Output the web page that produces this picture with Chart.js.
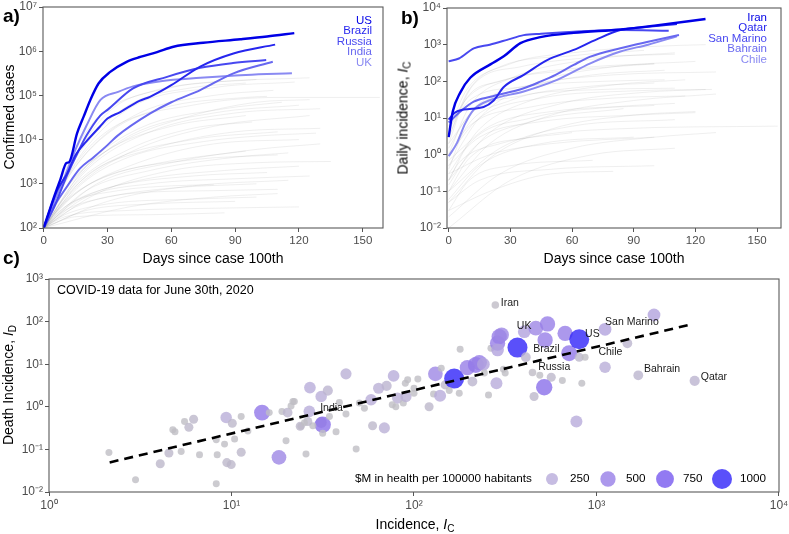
<!DOCTYPE html>
<html>
<head>
<meta charset="utf-8">
<script src="https://cdn.jsdelivr.net/npm/chart.js@4.4.1/dist/chart.umd.min.js"></script>
<style>
  body { margin: 0; background: #fff; width: 789px; height: 534px; position: relative; overflow: hidden;
         font-family: "Liberation Sans", Arial, sans-serif; }
  canvas { position: absolute; left: 0; top: 0; }
  .ttl { position: absolute; font-size: 14px; color: #000; white-space: nowrap; line-height: 1; transform: translate(-50%, -50%); }
  .ttl.rot { transform: translate(-50%, -50%) rotate(-90deg); }
  .ttl sub { font-size: 10px; vertical-align: -3px; }
  .pl { position: absolute; font-size: 19px; font-weight: bold; line-height: 1; }
</style>
</head>
<body>
<canvas id="chartA" width="789" height="534"></canvas>
<canvas id="chartB" width="789" height="534"></canvas>
<canvas id="chartC" width="789" height="534"></canvas>

<div class="pl" style="left:3px;top:6px">a)</div>
<div class="pl" style="left:401px;top:8px">b)</div>
<div class="pl" style="left:3px;top:248px">c)</div>
<div class="ttl rot" style="left:9px;top:117px">Confirmed cases</div>
<div class="ttl" style="left:213px;top:258px">Days since case 100th</div>
<div class="ttl rot" style="left:404px;top:118px">Daily incidence, <i>I</i><sub>C</sub></div>
<div class="ttl" style="left:614px;top:258px">Days since case 100th</div>
<div class="ttl rot" style="left:9px;top:385px">Death Incidence, <i>I</i><sub>D</sub></div>
<div class="ttl" style="left:415px;top:525px">Incidence, <i>I</i><sub>C</sub></div>

<script>
/* ---------- DATA: panel a (confirmed cases) ---------- */
const daysTicks = [0, 30, 60, 90, 120, 150];
const casesTicks = [1e2, 1e3, 1e4, 1e5, 1e6, 1e7];

const namesA = ["US", "Brazil", "Russia", "India", "UK"];
const usDays = [0, 4.7, 7.8, 10.7, 12, 15.7, 18.8, 21.9, 25.8, 31.3, 39, 45.4, 53.3, 61, 75, 92.4, 105, 117.8];
const usCases = [100, 475, 1230, 2950, 3100, 13800, 33000, 78000, 186000, 340000, 575000, 740000, 950000, 1260000, 1550000, 1860000, 2150000, 2570000];
const brazilDays = [0, 6.3, 11, 15, 20, 26.6, 30, 36, 45, 50, 60, 73.6, 89.2, 108.8];
const brazilCases = [100, 700, 1700, 4500, 9000, 20000, 30000, 42000, 75000, 93000, 170000, 450000, 890000, 1410000];
const russiaDays = [0, 5, 10, 15, 20, 26.6, 30, 42, 58, 73.6, 89, 104.6];
const russiaCases = [100, 300, 1200, 4000, 12000, 35000, 47000, 144000, 263000, 420000, 540000, 630000];
const indiaDays = [0, 3.1, 11, 17, 23.5, 30, 34.5, 50.1, 60, 73.6, 89.2, 107.7];
const indiaCases = [100, 220, 870, 2200, 4000, 7500, 12000, 39000, 70000, 132000, 316000, 575000];
const ukDays = [0, 5, 10, 15, 20, 26.6, 35, 42, 55, 73.6, 95, 116.7];
const ukCases = [100, 400, 1500, 6000, 20000, 78000, 120000, 160000, 210000, 250000, 290000, 316000];

// other countries, [day, cases]
const grayA = [
  [[0,100],[10,2000],[25,30000],[50,120000],[80,200000],[125,250000]],
  [[0,100],[10,1500],[30,40000],[60,150000],[100,230000]],
  [[0,100],[15,3000],[40,50000],[80,150000],[118,200000]],
  [[0,100],[12,1500],[35,20000],[70,60000],[110,90000],[158,90000]],
  [[0,100],[15,1200],[40,12000],[80,40000],[120,60000]],
  [[0,100],[20,2000],[50,15000],[90,40000],[130,50000]],
  [[0,100],[15,800],[40,5000],[80,20000],[125,35000]],
  [[0,100],[20,1500],[50,6000],[90,15000],[130,18000]],
  [[0,100],[10,500],[30,3000],[70,10000],[110,15000]],
  [[0,100],[15,600],[40,2500],[80,8000],[120,10000]],
  [[0,100],[20,700],[50,2000],[90,4000],[115,5000]],
  [[0,100],[10,400],[30,1500],[70,3500],[110,4500]],
  [[0,100],[15,400],[45,1200],[85,2000],[120,2500]],
  [[0,100],[10,300],[30,800],[70,1500],[105,1800]],
  [[0,100],[20,500],[50,1000],[90,1300],[125,1500]],
  [[0,100],[10,250],[30,500],[60,800],[100,1000]],
  [[0,100],[15,300],[40,600],[80,700],[110,750]],
  [[0,100],[10,200],[30,350],[70,450],[100,500]],
  [[0,100],[20,250],[50,350],[90,400]],
  [[0,100],[10,180],[40,250],[80,280],[120,300]],
  [[0,100],[15,180],[50,200],[85,220]],
  [[0,100],[5,400],[20,5000],[45,40000],[80,100000],[108,130000]],
  [[0,100],[8,800],[25,10000],[55,50000],[95,90000],[105,95000]],
  [[0,100],[12,1000],[35,8000],[65,30000],[100,70000],[125,80000]],
  [[0,100],[10,700],[28,5000],[60,20000],[95,35000]],
  [[0,100],[18,1000],[40,4000],[75,9000],[100,12000],[128,14000]],
  [[0,100],[25,1000],[60,3000],[100,6000],[130,8000]],
  [[0,100],[8,300],[25,1200],[55,3000],[95,5500]],
  [[0,100],[30,400],[70,900],[115,1200]],
  [[0,100],[12,350],[35,700],[60,900],[80,950]],
  [[0,100],[20,2500],[45,18000],[85,50000],[112,70000]],
  [[0,100],[25,600],[60,2000],[100,3000],[135,3200]],
  [[0,100],[40,300],[80,500],[110,600]],
  [[0,100],[6,600],[18,6000],[40,60000],[70,150000],[95,190000]],
  [[0,100],[14,900],[40,6000],[70,18000],[98,25000]]
];

/* ---------- DATA: panel b (daily incidence) ---------- */
const incTicksB = [1e-2, 1e-1, 1e0, 1e1, 1e2, 1e3, 1e4];
const namesB = ["Iran", "Qatar", "San Marino", "Bahrain", "Chile"];
const iranDays = [0, 2, 5.7, 10.5, 20.3, 26.8, 34.9, 44.6, 60.8, 83.5, 100, 124.9];
const iranInc = [3, 15, 50, 125, 290, 480, 1100, 1600, 2100, 2600, 3300, 5000];
const qatarDays = [0, 3, 7.3, 17, 21.9, 26.8, 36.5, 47.9, 60.8, 72, 83.5, 95, 111];
const qatarInc = [9, 14, 17, 20, 30, 70, 150, 380, 720, 1400, 2500, 3000, 3650];
const smDays = [0, 5, 12.2, 20, 28.4, 36.5, 45, 60.8, 83.5, 107];
const smInc = [350, 420, 790, 1000, 1350, 1820, 2000, 2250, 2500, 2400];
const bahrainDays = [0, 5.7, 12.2, 20.3, 36.5, 44.6, 52, 60.8, 68.9, 83.5, 97, 112];
const bahrainInc = [7.5, 15, 28, 38, 65, 98, 150, 280, 470, 800, 1200, 1830];
const chileDays = [0, 4.1, 8, 12.2, 20.3, 36.5, 52.7, 68.9, 83.5, 97, 111];
const chileInc = [0.9, 2.1, 7, 17, 31, 53, 110, 310, 650, 1000, 1700];

const grayB = [
  [[0,3],[10,60],[30,300],[60,600],[100,900],[125,1000]],
  [[0,1],[10,20],[30,120],[70,400],[110,600]],
  [[0,0.5],[15,10],[40,80],[80,250],[120,350]],
  [[0,2],[8,30],[25,100],[60,200],[100,300]],
  [[0,0.3],[15,5],[40,30],[80,80],[115,110]],
  [[0,0.1],[20,2],[50,12],[90,30],[130,45]],
  [[0,0.05],[20,0.8],[50,5],[90,12],[120,15]],
  [[0,0.02],[25,0.3],[60,1.5],[100,3],[130,4]],
  [[0,0.2],[10,2],[40,10],[80,20],[110,25]],
  [[0,1],[10,6],[40,20],[80,35],[115,40]],
  [[0,0.5],[15,3],[45,8],[90,12],[120,14]],
  [[0,0.1],[10,0.8],[40,3],[80,5],[160,6]],
  [[0,0.3],[20,1],[50,2],[100,3]],
  [[0,0.05],[15,0.2],[50,0.4],[100,0.5]],
  [[0,4],[8,50],[25,250],[60,500],[95,700]],
  [[0,0.8],[12,15],[35,60],[70,150],[105,200]],
  [[0,6],[10,40],[30,120],[70,250],[100,300]],
  [[0,0.2],[20,4],[55,25],[95,50],[125,60]],
  [[0,0.01],[30,0.2],[70,1],[110,1.5]],
  [[0,0.03],[20,0.1],[50,0.3],[80,0.35]],
  [[0,2],[15,25],[40,80],[80,150],[130,180]],
  [[0,0.4],[8,5],[30,30],[65,70],[100,90]],
  [[0,0.15],[12,1.5],[40,8],[85,18]],
  [[0,1.5],[10,12],[35,40],[75,60],[110,65]],
  [[0,0.7],[20,6],[50,15],[100,22]],
  [[0,0.1],[25,1.5],[60,6],[110,9]],
  [[0,3],[12,80],[35,250],[70,450],[110,550]],
  [[0,0.03],[10,0.2],[30,0.5],[70,0.7]],
  [[0,5],[10,30],[35,70],[75,100],[105,110]],
  [[0,0.2],[5,0.6],[25,2],[60,4]],
  [[0,1],[15,10],[45,35],[90,55],[128,60]],
  [[0,0.06],[15,0.5],[45,2],[90,3]]
];

/* ---------- DATA: panel c (June 30th snapshot) ---------- */
const incTicksC = [1e0, 1e1, 1e2, 1e3, 1e4];
const deathTicks = [1e-2, 1e-1, 1e0, 1e1, 1e2, 1e3];
const incX = [2.13,2.98,4.07,4.54,4.77,4.9,5.3,5.53,5.84,6.2,
  6.68,8.25,8.35,8.25,9.16,9.35,9.43,9.96,10.1,10.4,
  11.3,11.3,12.3,14.7,18.2,16.1,18.9,19.9,20.3,21.7,
  25.6,26.9,26.7,31,33.7,31,31.6,27.9,24,26.2,
  31.6,37.4,42.4,42.4,39,48.2,50.2,53.5,58.2,59.3,
  64,68.8,70.8,77.3,79.5,81.3,87.4,90.4,92.3,100,
  100,105,121,128,131,139,141,148,166,156,
  177,179,196,209,218,228,240,243,256,264,
  283,287,293,302,279,309,316,369,410,402,
  465,539,523,446,489,565,517,455,650,673,
  708,804,804,866,831,776,1114,1114,1476,2066,
  1694,3451,89.6,287,21.2,23.8,25.1,34.4,22.1,76];
const deathY = [0.085,0.0195,0.046,0.082,0.29,0.26,0.089,0.45,0.33,0.51,
  0.075,0.168,0.075,0.0157,0.133,0.56,0.049,0.044,0.41,0.175,
  0.59,0.086,0.27,0.73,0.065,0.73,0.78,0.16,0.73,1.33,
  0.078,2.83,0.78,1.74,2.4,0.43,0.38,0.36,0.35,0.45,
  0.24,0.26,5.93,0.68,1.26,0.102,1.22,0.93,1.46,0.36,
  2.73,0.32,3.1,5.3,1.0,1.6,1.22,1.74,4.29,2.73,
  2.09,4.47,1.0,2.0,5.93,1.81,8.07,3.27,4.6,2.4,
  2.09,22.5,8.3,3.92,9.6,10.9,10,6.2,1.9,23.7,
  3.59,31.1,44.5,49,245,7.6,6.2,24.5,14.6,58,
  70,88,37,6.4,5.5,4.95,2.88,1.74,4.13,53,
  18.1,38.6,14.6,14.6,3.59,0.45,66,8.5,31,143,
  5.5,4.07,3.59,21.7,1.05,0.35,0.42,0.59,1.33,1.11];
// $M in health per 100000 habitants
const health = [35,35,100,100,35,35,35,35,100,100,
  35,35,35,35,35,220,100,100,100,35,
  35,100,35,550,450,35,35,35,130,35,
  35,230,230,220,150,200,600,35,35,100,
  35,35,200,35,35,35,35,35,220,100,
  200,200,150,230,35,200,35,200,35,35,
  35,35,100,35,450,250,35,100,1000,35,
  35,35,500,130,550,500,300,35,35,35,
  250,500,500,450,50,35,35,1000,130,300,
  450,500,500,50,35,100,600,100,35,500,
  550,1000,100,35,35,250,300,220,130,300,
  130,150,35,300,35,100,35,35,35,35];
const trendX = [2.15, 3213];
const trendY = [0.0495, 83.6];
const labelNames = ["Iran", "UK", "US", "San Marino", "Brazil", "Chile", "Russia", "Bahrain", "Qatar", "India"];
const labelX = [299, 366, 866, 1114, 450, 1024, 479, 1820, 3724, 30.6];
const labelY = [269, 79, 51, 96.6, 22.9, 19.1, 8.5, 7.8, 5.1, 0.93];
const legendVals = [250, 500, 750, 1000];

/* ---------- HELPERS ---------- */
const FONT = '"Liberation Sans", Arial, sans-serif';
const W = 789, H = 534;
const hiColors = ["#0000e6", "#2626ee", "#4848f0", "#6868f0", "#8a8af2"];
const GRAY_LINE = "rgba(130,130,130,0.13)";

const SUP = "⁰¹²³⁴⁵⁶⁷⁸⁹";
function sup(n) {
    return String(n).split("").map(c => c === "-" ? "⁻" : SUP[+c]).join("");
}
const powLabel = v => "10" + sup(Math.round(Math.log10(v)));

const pts = (xs, ys) => xs.map((x, i) => ({ x, y: ys[i] }));

function radius(v) { return 2 + 0.253 * Math.sqrt(v); }

// shown colour (over white), then un-blended for alpha
const colStops = [[0, [205, 205, 205]], [250, [198, 188, 226]], [500, [172, 152, 236]], [750, [146, 122, 242]], [1000, [90, 80, 250]]];
const ALPHA = 0.8;
function colour(v) {
    let i = 0;
    while (i < colStops.length - 2 && v > colStops[i + 1][0]) i++;
    const [v0, c0] = colStops[i], [v1, c1] = colStops[i + 1];
    const t = Math.max(0, Math.min(1, (v - v0) / (v1 - v0)));
    const c = c0.map((a, k) => a + (c1[k] - a) * t).map(d => Math.round(255 - (255 - d) / ALPHA));
    return `rgba(${c[0]},${c[1]},${c[2]},${ALPHA})`;
}

function tickGrid() {
    return { display: true, drawOnChartArea: false, drawTicks: true, tickLength: 4, color: "#555", lineWidth: 1 };
}
function tickFont(size) {
    return { font: { family: FONT, size }, color: "#4d4d4d", autoSkip: false, maxRotation: 0 };
}
function linX(min, max, ticks) {
    return {
        type: "linear", min, max,
        grid: tickGrid(), border: { display: false },
        ticks: { ...tickFont(11.5), padding: 2 },
        afterBuildTicks: s => { s.ticks = ticks.map(v => ({ value: v })); },
        afterFit: s => { s.height = 20; s.paddingLeft = 0; s.paddingRight = 0; }
    };
}
function logX(min, max, ticks) {
    const o = linX(min, max, ticks);
    o.type = "logarithmic";
    o.ticks = { ...tickFont(12), padding: 2, callback: powLabel };
    return o;
}
function logY(min, max, ticks) {
    return {
        type: "logarithmic", min, max,
        grid: tickGrid(), border: { display: false },
        ticks: { ...tickFont(12), padding: 2, callback: powLabel },
        afterBuildTicks: s => { s.ticks = ticks.map(v => ({ value: v })); },
        afterFit: s => { s.width = 40; s.paddingTop = 0; s.paddingBottom = 0; }
    };
}
// plot box in page pixels -> layout padding (y axis 40 wide, x axis 20 high)
function pad(l, t, r, b) {
    return { left: l - 40, top: t, right: W - r, bottom: H - b - 20 };
}

const framePlugin = {
    id: "frame",
    afterDatasetsDraw(chart) {
        const a = chart.chartArea, ctx = chart.ctx;
        ctx.save();
        ctx.strokeStyle = "#5a5a5a";
        ctx.lineWidth = 1.1;
        ctx.strokeRect(a.left, a.top, a.right - a.left, a.bottom - a.top);
        ctx.restore();
    }
};

function nameLegend(names, rightX, firstY, step) {
    return {
        id: "names",
        afterDraw(chart) {
            const ctx = chart.ctx;
            ctx.save();
            ctx.font = `11.5px ${FONT}`;
            ctx.textAlign = "right";
            ctx.textBaseline = "middle";
            names.forEach((n, i) => {
                ctx.fillStyle = hiColors[i];
                ctx.fillText(n, rightX, firstY + i * step);
            });
            ctx.restore();
        }
    };
}

function lineSets(series, gray) {
    const hi = series.map((s, i) => ({
        data: pts(s[0], s[1]),
        borderColor: hiColors[i],
        borderWidth: i === 0 ? 2.4 : 2,
        pointRadius: 0,
        cubicInterpolationMode: "monotone"
    }));
    const gr = gray.map(g => ({
        data: g.map(([x, y]) => ({ x, y })),
        borderColor: GRAY_LINE,
        borderWidth: 1,
        pointRadius: 0,
        cubicInterpolationMode: "monotone"
    }));
    return hi.concat(gr);
}

const common = {
    responsive: false,
    animation: false,
    events: [],
    plugins: { legend: { display: false }, tooltip: { enabled: false } }
};

/* ---------- PANEL A ---------- */
new Chart(document.getElementById("chartA"), {
    type: "line",
    data: {
        datasets: lineSets([[usDays, usCases], [brazilDays, brazilCases], [russiaDays, russiaCases],
            [indiaDays, indiaCases], [ukDays, ukCases]], grayA)
    },
    options: {
        ...common,
        layout: { padding: pad(43, 7, 383, 228) },
        scales: { x: linX(-0.3, 159.5, daysTicks), y: logY(1e2, 1e7, casesTicks) }
    },
    plugins: [framePlugin, nameLegend(namesA, 372, 20.5, 10.5)]
});

/* ---------- PANEL B ---------- */
new Chart(document.getElementById("chartB"), {
    type: "line",
    data: {
        datasets: lineSets([[iranDays, iranInc], [qatarDays, qatarInc], [smDays, smInc],
            [bahrainDays, bahrainInc], [chileDays, chileInc]], grayB)
    },
    options: {
        ...common,
        layout: { padding: pad(447, 8, 781, 228) },
        scales: { x: linX(-0.8, 161.6, daysTicks), y: logY(1e-2, 1e4, incTicksB) }
    },
    plugins: [framePlugin, nameLegend(namesB, 767, 17.5, 10.5)]
});

/* ---------- PANEL C ---------- */
const labelPlugin = {
    id: "labels",
    afterDatasetsDraw(chart) {
        const ctx = chart.ctx, sx = chart.scales.x, sy = chart.scales.y;
        ctx.save();
        ctx.font = `10.5px ${FONT}`;
        ctx.fillStyle = "#1a1a1a";
        ctx.textBaseline = "middle";
        ctx.textAlign = "left";
        labelNames.forEach((n, i) => {
            ctx.fillText(n, sx.getPixelForValue(labelX[i]), sy.getPixelForValue(labelY[i]));
        });
        ctx.font = `12.5px ${FONT}`;
        ctx.fillStyle = "#000";
        ctx.fillText("COVID-19 data for June 30th, 2020", chart.chartArea.left + 8, chart.chartArea.top + 12);
        // size legend
        const ly = 479;
        ctx.font = `11.7px ${FONT}`;
        ctx.fillText("$M in health per 100000 habitants", 355, ly);
        const cx = [552, 608, 665, 722];
        legendVals.forEach((v, i) => {
            ctx.beginPath();
            ctx.arc(cx[i], ly, radius(v), 0, Math.PI * 2);
            ctx.fillStyle = colour(v);
            ctx.fill();
            ctx.fillStyle = "#000";
            ctx.fillText(String(v), cx[i] + 18, ly);
        });
        ctx.restore();
    }
};

new Chart(document.getElementById("chartC"), {
    type: "scatter",
    data: {
        datasets: [
            {
                type: "line",
                data: pts(trendX, trendY),
                borderColor: "#000",
                borderWidth: 2.6,
                borderDash: [9, 6],
                pointRadius: 0
            },
            {
                data: pts(incX, deathY),
                pointRadius: health.map(radius),
                pointBackgroundColor: health.map(colour),
                pointBorderWidth: 0
            }
        ]
    },
    options: {
        ...common,
        layout: { padding: pad(49, 279, 780, 492) },
        scales: { x: logX(1, 1e4, incTicksC), y: logY(1e-2, 1e3, deathTicks) }
    },
    plugins: [framePlugin, labelPlugin]
});
</script>
</body>
</html>
